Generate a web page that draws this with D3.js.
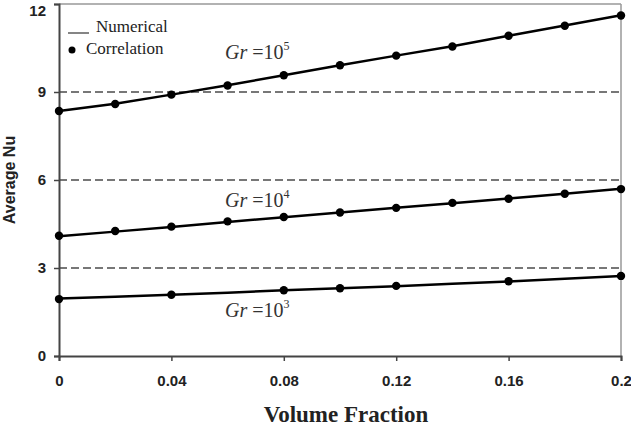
<!DOCTYPE html>
<html lang="en">
  <head>
    <meta charset="UTF-8" />
    <title>Average Nu vs volume fraction</title>
    <style type="text/css">
      body { margin: 0; background: #fff; }
      .tick text { font-family: Arial, "Liberation Sans", sans-serif; font-weight: bold; font-size: 15px; fill: #222; }
    </style>
  </head>
  <body>
    <div id="chart"></div>
    <script src="https://d3js.org/d3.v7.min.js"></script>
    <script>
      // data
      var phi = [0, 0.02, 0.04, 0.06, 0.08, 0.1, 0.12, 0.14, 0.16, 0.18, 0.2];
      var num5 = [8.35, 8.6, 8.91, 9.23, 9.57, 9.91, 10.24, 10.56, 10.92, 11.27, 11.62];
      var num4 = [4.08, 4.24, 4.4, 4.57, 4.73, 4.89, 5.05, 5.21, 5.37, 5.53, 5.7];
      var num3 = [1.96, 2.02, 2.09, 2.16, 2.24, 2.31, 2.38, 2.46, 2.54, 2.63, 2.73];
      var corr5 = [8.35, 8.59, 8.91, 9.22, 9.57, 9.91, 10.24, 10.55, 10.92, 11.26, 11.61];
      var corr4 = [4.1, 4.26, 4.41, 4.59, 4.74, 4.89, 5.05, 5.22, 5.36, 5.53, 5.69];
      var phi3 = [0, 0.04, 0.08, 0.1, 0.12, 0.16, 0.2];
      var corr3 = [1.94, 2.09, 2.24, 2.31, 2.39, 2.55, 2.73];
      var xTicks = [0, 0.04, 0.08, 0.12, 0.16, 0.2];
      var yTicks = [0, 3, 6, 9, 12];
      var gridVals = [3, 6, 9];
      var grLabels = [
        { exp: "5", at: 10.13 },
        { exp: "4", at: 5.08 },
        { exp: "3", at: 1.33 }
      ];

      var margin = { top: 4, right: 10, bottom: 70, left: 59 };

      var svg = d3
        .select("#chart")
        .append("svg")
        .attr("width", 631)
        .attr("height", 426)
        .append("g")
        .attr("transform", "translate(" + margin.left + "," + margin.top + ")");

      var x = d3.scaleLinear().domain([0, 0.2]).range([0, 562]);
      var y = d3.scaleLinear().domain([0, 12]).range([352, 0]);

      // frame top and right
      svg.append("line").attr("x1", 0).attr("x2", x(0.2)).attr("y1", y(12)).attr("y2", y(12))
        .attr("stroke", "#999").attr("stroke-width", 1.5);
      svg.append("line").attr("x1", x(0.2)).attr("x2", x(0.2)).attr("y1", y(12)).attr("y2", y(0))
        .attr("stroke", "#999").attr("stroke-width", 1.5);

      // dashed grid
      svg.selectAll(".grid")
        .data(gridVals)
        .enter()
        .append("line")
        .attr("class", "grid")
        .attr("x1", 0)
        .attr("x2", x(0.2))
        .attr("y1", function (d) { return y(d); })
        .attr("y2", function (d) { return y(d); })
        .attr("stroke", "#777")
        .attr("stroke-width", 2)
        .attr("stroke-dasharray", "8,4");

      // axes
      var xAxis = svg.append("g")
        .attr("transform", "translate(0," + y(0) + ")")
        .call(d3.axisBottom(x).tickValues(xTicks).tickSize(5).tickPadding(14)
          .tickFormat(function (d) { return d === 0 ? "0" : d3.format("")(+d.toFixed(2)); }));
      var yAxis = svg.append("g")
        .call(d3.axisLeft(y).tickValues(yTicks).tickSize(5).tickPadding(8));
      [xAxis, yAxis].forEach(function (a) {
        a.select(".domain").attr("stroke", "#444").attr("stroke-width", 2);
        a.selectAll(".tick line").attr("stroke", "#444").attr("stroke-width", 1.5);
      });
      // keep the top label "12" inside the picture
      yAxis.selectAll(".tick text").filter(function (d) { return d === 12; }).attr("dy", "0.75em");

      // numerical lines
      var line = d3.line()
        .x(function (d) { return x(d[0]); })
        .y(function (d) { return y(d[1]); });
      [num5, num4, num3].forEach(function (s) {
        svg.append("path")
          .datum(phi.map(function (p, i) { return [p, s[i]]; }))
          .attr("d", line)
          .attr("fill", "none")
          .attr("stroke", "#000")
          .attr("stroke-width", 2.5);
      });

      // correlation points
      var pts = []
        .concat(phi.map(function (p, i) { return [p, corr5[i]]; }))
        .concat(phi.map(function (p, i) { return [p, corr4[i]]; }))
        .concat(phi3.map(function (p, i) { return [p, corr3[i]]; }));
      svg.selectAll(".pt")
        .data(pts)
        .enter()
        .append("circle")
        .attr("class", "pt")
        .attr("cx", function (d) { return x(d[0]); })
        .attr("cy", function (d) { return y(d[1]); })
        .attr("r", 4.2)
        .attr("fill", "#000");

      // Gr labels
      grLabels.forEach(function (g) {
        var t = svg.append("text")
          .attr("x", 166)
          .attr("y", y(g.at))
          .attr("font-family", "'Liberation Serif', 'Times New Roman', serif")
          .attr("font-size", "20px")
          .attr("fill", "#333");
        t.append("tspan").attr("font-style", "italic").text("Gr");
        t.append("tspan").text(" =10");
        t.append("tspan").attr("font-size", "12px").attr("dy", -9).text(g.exp);
      });

      // legend
      var leg = svg.append("g").attr("font-family", "'Liberation Serif', 'Times New Roman', serif")
        .attr("font-size", "17px").attr("fill", "#222");
      leg.append("line").attr("x1", 9).attr("x2", 30).attr("y1", 29).attr("y2", 29)
        .attr("stroke", "#333").attr("stroke-width", 1.2);
      leg.append("text").attr("x", 37).attr("y", 28).text("Numerical");
      leg.append("circle").attr("cx", 13).attr("cy", 46).attr("r", 3.5).attr("fill", "#000");
      leg.append("text").attr("x", 27).attr("y", 50).text("Correlation");

      // axis titles
      svg.append("text")
        .attr("transform", "rotate(-90)")
        .attr("x", -y(6))
        .attr("y", -44)
        .attr("text-anchor", "middle")
        .attr("font-family", "Arial, 'Liberation Sans', sans-serif")
        .attr("font-weight", "bold")
        .attr("font-size", "16px")
        .attr("fill", "#222")
        .text("Average Nu");
      svg.append("text")
        .attr("x", 287)
        .attr("y", 418)
        .attr("text-anchor", "middle")
        .attr("font-family", "'Liberation Serif', 'Times New Roman', serif")
        .attr("font-weight", "bold")
        .attr("font-size", "23px")
        .attr("fill", "#222")
        .text("Volume Fraction");
    </script>
  </body>
</html>
